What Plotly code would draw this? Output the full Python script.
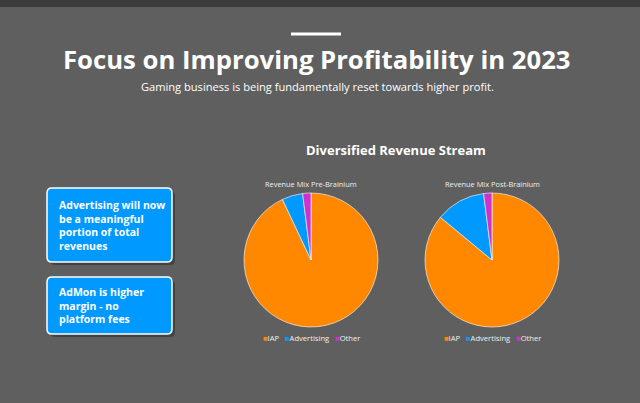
import plotly.graph_objects as go

# ---- data ----
labels = ["IAP", "Advertising", "Other"]
pre_values = [93, 5, 2]
post_values = [86, 12, 2]
colors = ["#FF8800", "#0099FF", "#CC33CC"]
pie_titles = ["Revenue Mix Pre-Brainium", "Revenue Mix Post-Brainium"]
title = "Focus on Improving Profitability in 2023"
subtitle = "Gaming business is being fundamentally reset towards higher profit."
section_title = "Diversified Revenue Stream"
box_texts = [
    "Advertising will now<br>be a meaningful<br>portion of total<br>revenues",
    "AdMon is higher<br>margin - no<br>platform fees",
]

W, H = 640, 403
BG = "#5F5F5F"
FONT = "Open Sans"

def px(x):
    return x / W

def py(y):
    return 1 - y / H

fig = go.Figure()

# pies: centre and radius in pixels
pie_geo = [(311, 260, 67), (492, 260, 67)]
for vals, (cx, cy, r) in zip([pre_values, post_values], pie_geo):
    fig.add_trace(go.Pie(
        labels=labels, values=vals, sort=False, direction="clockwise", rotation=0,
        marker=dict(colors=colors, line=dict(color="#FFFFFF", width=0.6)),
        textinfo="none", hoverinfo="label+percent", showlegend=False,
        domain=dict(x=[px(cx - r), px(cx + r)], y=[py(cy + r), py(cy - r)]),
    ))

shapes = []
annotations = []

# top dark band
shapes.append(dict(type="rect", xref="paper", yref="paper", x0=0, x1=1, y0=py(7), y1=1,
                   fillcolor="#3C3C3C", line=dict(width=0), layer="below"))
# decorative line
shapes.append(dict(type="rect", xref="paper", yref="paper", x0=px(291), x1=px(341),
                   y0=py(35.5), y1=py(32.5), fillcolor="#FFFFFF", line=dict(width=0)))

annotations.append(dict(text=f"<b>{title}</b>", x=px(317), y=py(60), xref="paper", yref="paper",
                        showarrow=False, xanchor="center", yanchor="middle",
                        font=dict(family=FONT, size=25.7, color="#FFFFFF")))
annotations.append(dict(text=subtitle, x=px(317), y=py(86), xref="paper", yref="paper",
                        showarrow=False, xanchor="center", yanchor="middle",
                        font=dict(family=FONT, size=11.1, color="#FFFFFF")))
annotations.append(dict(text=f"<b>{section_title}</b>", x=px(396), y=py(150), xref="paper", yref="paper",
                        showarrow=False, xanchor="center", yanchor="middle",
                        font=dict(family=FONT, size=13, color="#FFFFFF")))

for t, (cx, cy, r) in zip(pie_titles, pie_geo):
    annotations.append(dict(text=t, x=px(cx), y=py(184), xref="paper", yref="paper",
                            showarrow=False, xanchor="center", yanchor="middle",
                            font=dict(family=FONT, size=7.4, color="#F0F0F0")))
    leg = "   ".join(f"<span style='color:{c}'>■</span>{l}" for l, c in zip(labels, colors))
    annotations.append(dict(text=leg, x=px(cx), y=py(338), xref="paper", yref="paper",
                            showarrow=False, xanchor="center", yanchor="middle",
                            font=dict(family=FONT, size=7.6, color="#F0F0F0")))

# callout boxes (pixel rects)
boxes = [(47, 188, 172, 262), (47, 277, 172, 334)]

def rounded(x0, y0, x1, y1, r=5):
    X0, X1 = px(x0), px(x1)
    Y0, Y1 = py(y0), py(y1)
    rx, ry = r / W, r / H
    return (f"M{X0+rx},{Y0} L{X1-rx},{Y0} Q{X1},{Y0} {X1},{Y0-ry} "
            f"L{X1},{Y1+ry} Q{X1},{Y1} {X1-rx},{Y1} L{X0+rx},{Y1} "
            f"Q{X0},{Y1} {X0},{Y1+ry} L{X0},{Y0-ry} Q{X0},{Y0} {X0+rx},{Y0} Z")

for (x0, y0, x1, y1), t in zip(boxes, box_texts):
    shapes.append(dict(type="path", xref="paper", yref="paper", path=rounded(x0 + 3, y0 + 3, x1 + 3, y1 + 3),
                       fillcolor="rgba(30,30,30,0.45)", line=dict(width=0)))
    shapes.append(dict(type="path", xref="paper", yref="paper", path=rounded(x0, y0, x1, y1),
                       fillcolor="#0099FF", line=dict(color="#FFFFFF", width=1.5)))
    annotations.append(dict(text=f"<b>{t}</b>", x=px(57), y=py((y0 + y1) / 2), xref="paper", yref="paper",
                            showarrow=False, xanchor="left", yanchor="middle", align="left",
                            font=dict(family=FONT, size=10.5, color="#FFFFFF")))

fig.update_layout(
    width=W, height=H, margin=dict(l=0, r=0, t=0, b=0),
    paper_bgcolor=BG, plot_bgcolor=BG,
    shapes=shapes, annotations=annotations,
)

fig.write_html("out.html", config={"displayModeBar": False},
               post_script="document.body.style.margin='0';document.body.style.background='#5F5F5F';")
